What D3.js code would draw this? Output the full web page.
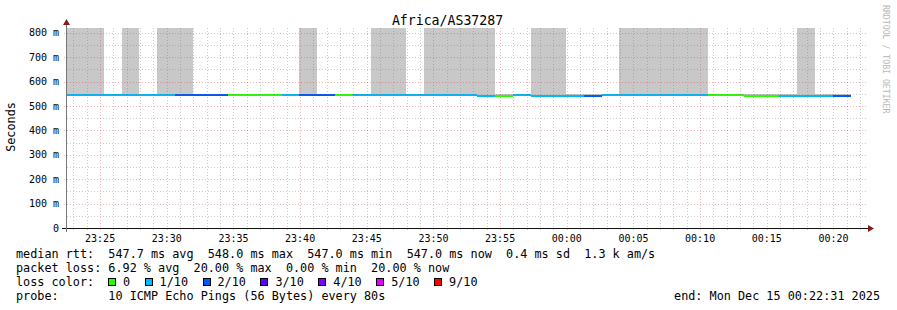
<!DOCTYPE html>
<html>
<head>
<meta charset="utf-8">
<script src="https://cdn.jsdelivr.net/npm/d3@7"></script>
<style>
  html, body { margin: 0; padding: 0; background: #fff; }
  text { font-family: "DejaVu Sans Mono", monospace; fill: #000; }
</style>
</head>
<body>
<script>
// ---- data ----
const title = 'Africa/AS37287';
const startTime = new Date(Date.UTC(2025, 11, 14, 23, 22, 31));
const endTime = new Date(Date.UTC(2025, 11, 15, 0, 22, 31));
const firstStep = new Date(Date.UTC(2025, 11, 14, 23, 21, 17)); // start of first 80s step
const stepSeconds = 80;

// median rtt per step, ms
const median = [
  548, 548, 548, 548, 548, 548, 548, 548, 548, 548,
  548, 548, 548, 548, 548, 548, 548, 548, 548, 548,
  548, 548, 548, 548, 547, 547, 548, 547, 547, 547,
  547, 548, 548, 548, 548, 548, 548, 548, 548, 547,
  547, 547, 547, 547, 547
];
// lost pings out of 10, per step
const loss = [
  1, 1, 1, 1, 1, 1, 1, 2, 2, 2,
  0, 0, 0, 1, 2, 2, 0, 1, 1, 1,
  1, 1, 1, 1, 1, 0, 1, 1, 1, 1,
  2, 1, 1, 1, 1, 1, 1, 0, 0, 0,
  0, 1, 1, 1, 2
];
// slowest ping per step, ms (smoke top; large ones run off the graph)
const slowest = [
  1400, 1400, 1400, 549, 1400, 549, 1400, 1400, 549, 549,
  549, 549, 549, 549, 1400, 549, 549, 549, 1400, 1400,
  549, 1400, 1400, 1400, 1400, 548, 549, 1400, 1400, 548,
  548, 549, 1400, 1400, 1400, 1400, 1400, 549, 549, 548,
  548, 548, 1400, 548, 548
];

const lossLevels = [0, 1, 2, 3, 4, 5, 9];
const lossLabels = ['0', '1/10', '2/10', '3/10', '4/10', '5/10', '9/10'];
const lossColors = ['#26ff00', '#00b8ff', '#0059ff', '#5e00ff', '#7e00ff', '#dd00ff', '#ff0000'];

const yTicks = [0, 100, 200, 300, 400, 500, 600, 700, 800];

const legendLines = [
  'median rtt:  547.7 ms avg  548.0 ms max  547.0 ms min  547.0 ms now  0.4 ms sd  1.3 k am/s',
  'packet loss: 6.92 % avg  20.00 % max  0.00 % min  20.00 % now',
  'loss color:',
  'probe:       10 ICMP Echo Pings (56 Bytes) every 80s'
];
const endLabel = 'end: Mon Dec 15 00:22:31 2025';

// ---- layout ----
const W = 897, H = 310;
const pL = 67, pR = 867, pT = 28, pB = 228;

const steps = median.map((m, i) => ({
  t0: new Date(firstStep.getTime() + i * stepSeconds * 1000),
  t1: new Date(firstStep.getTime() + (i + 1) * stepSeconds * 1000),
  median: m,
  loss: loss[i],
  slowest: slowest[i]
}));

const x = d3.scaleUtc().domain([startTime, endTime]).range([pL, pR]);
const y = d3.scaleLinear().domain([0, 820]).range([pB, pT]);
const color = d3.scaleOrdinal().domain(lossLevels).range(lossColors);

const svg = d3.select('body').append('svg')
  .attr('width', W)
  .attr('height', H)
  .style('display', 'block');

svg.append('rect').attr('width', W).attr('height', H).attr('fill', '#fff');

svg.append('defs').append('clipPath').attr('id', 'plot')
  .append('rect')
  .attr('x', pL).attr('y', pT)
  .attr('width', pR - pL).attr('height', pB - pT);

// title
svg.append('text')
  .attr('x', 447.5).attr('y', 25)
  .attr('text-anchor', 'middle')
  .style('font-size', '13.2px')
  .text(title);

// smoke
const plot = svg.append('g').attr('clip-path', 'url(#plot)');
plot.selectAll('rect.smoke')
  .data(steps)
  .join('rect')
  .attr('class', 'smoke')
  .attr('x', d => x(d.t0))
  .attr('width', d => x(d.t1) - x(d.t0))
  .attr('y', d => y(d.slowest))
  .attr('height', d => Math.max(0, y(d.median) - y(d.slowest)))
  .attr('fill', '#c8c8c8')
  .attr('shape-rendering', 'crispEdges');

// grid
const grid = svg.append('g').attr('shape-rendering', 'crispEdges');
const minorY = d3.range(50, 820, 50).filter(v => v % 100 !== 0);
const majorY = yTicks.filter(v => v > 0);
const minutes = x.ticks(d3.utcMinute.every(1));
const fives = x.ticks(d3.utcMinute.every(5));
const minorColor = 'rgba(110,110,110,0.35)';
const majorColor = 'rgba(220,40,40,0.33)';

grid.selectAll('line.my')
  .data(minorY)
  .join('line')
  .attr('x1', pL).attr('x2', pR)
  .attr('y1', d => Math.round(y(d)) + 0.5).attr('y2', d => Math.round(y(d)) + 0.5)
  .attr('stroke', minorColor)
  .attr('stroke-dasharray', '1,2');

grid.selectAll('line.mx')
  .data(minutes.filter(t => t.getUTCMinutes() % 5 !== 0))
  .join('line')
  .attr('x1', d => Math.round(x(d)) + 0.5).attr('x2', d => Math.round(x(d)) + 0.5)
  .attr('y1', pT).attr('y2', pB + 2)
  .attr('stroke', minorColor)
  .attr('stroke-dasharray', '1,2');

grid.selectAll('line.My')
  .data(majorY)
  .join('line')
  .attr('x1', pL - 3).attr('x2', pR)
  .attr('y1', d => Math.round(y(d)) + 0.5).attr('y2', d => Math.round(y(d)) + 0.5)
  .attr('stroke', majorColor)
  .attr('stroke-dasharray', '1,2');

grid.selectAll('line.Mx')
  .data(fives)
  .join('line')
  .attr('x1', d => Math.round(x(d)) + 0.5).attr('x2', d => Math.round(x(d)) + 0.5)
  .attr('y1', pT).attr('y2', pB + 4)
  .attr('stroke', majorColor)
  .attr('stroke-dasharray', '1,2');

// median line coloured by loss
plot.selectAll('rect.med')
  .data(steps)
  .join('rect')
  .attr('class', 'med')
  .attr('x', d => x(d.t0))
  .attr('width', d => x(d.t1) - x(d.t0))
  .attr('y', d => Math.round(y(d.median)))
  .attr('height', 2)
  .attr('fill', d => color(d.loss))
  .attr('shape-rendering', 'crispEdges');

// axes
svg.append('line')
  .attr('x1', pL - 5).attr('x2', pR + 3)
  .attr('y1', pB + 0.5).attr('y2', pB + 0.5)
  .attr('stroke', '#111').attr('shape-rendering', 'crispEdges');
svg.append('line')
  .attr('x1', pL - 0.5).attr('x2', pL - 0.5)
  .attr('y1', pB + 4).attr('y2', pT - 6)
  .attr('stroke', '#777').attr('shape-rendering', 'crispEdges');

svg.append('path')
  .attr('d', `M${pR + 1},${pB - 3} L${pR + 7},${pB + 0.5} L${pR + 1},${pB + 4} Z`)
  .attr('fill', '#8b1a1a');
svg.append('path')
  .attr('d', `M${pL - 4},${pT - 3} L${pL - 0.5},${pT - 9} L${pL + 3},${pT - 3} Z`)
  .attr('fill', '#8b1a1a');

// tick labels
svg.selectAll('text.yl')
  .data(yTicks)
  .join('text')
  .attr('class', 'yl')
  .attr('x', 59)
  .attr('y', d => y(d) + 3.5)
  .attr('text-anchor', 'end')
  .style('font-size', '10px')
  .text(d => d === 0 ? '0' : d + ' m');

const fmt = d3.utcFormat('%H:%M');
svg.selectAll('text.xl')
  .data(fives)
  .join('text')
  .attr('class', 'xl')
  .attr('x', d => x(d))
  .attr('y', 241.5)
  .attr('text-anchor', 'middle')
  .style('font-size', '10px')
  .text(d => fmt(d));

// y title
svg.append('text')
  .attr('transform', 'translate(15,127) rotate(-90)')
  .attr('text-anchor', 'middle')
  .style('font-size', '11.8px')
  .text('Seconds');

// watermark
svg.append('text')
  .attr('transform', 'translate(883,5) rotate(90)')
  .style('font-size', '8.2px')
  .style('fill', '#b8b8b8')
  .text('RRDTOOL / TOBI OETIKER');

// legend
const lx = 16, cw = 7.1;
const base = i => 257.8 + 13.9 * i;
svg.selectAll('text.leg')
  .data(legendLines)
  .join('text')
  .attr('class', 'leg')
  .attr('x', lx)
  .attr('y', (d, i) => base(i))
  .style('font-size', '11.8px')
  .style('white-space', 'pre')
  .text(d => d);

let bx = lx + 13 * cw - 0.3;
lossLabels.forEach((lab, i) => {
  svg.append('rect')
    .attr('x', Math.round(bx) + 0.5).attr('y', 278.5)
    .attr('width', 7).attr('height', 7)
    .attr('fill', lossColors[i]).attr('stroke', '#000')
    .attr('shape-rendering', 'crispEdges');
  svg.append('text')
    .attr('x', bx + 15).attr('y', base(2))
    .style('font-size', '11.8px')
    .text(lab);
  bx += 15 + lab.length * cw + 14.5;
});

svg.append('text')
  .attr('x', 880).attr('y', base(3))
  .attr('text-anchor', 'end')
  .style('font-size', '11.8px')
  .text(endLabel);
</script>
</body>
</html>
